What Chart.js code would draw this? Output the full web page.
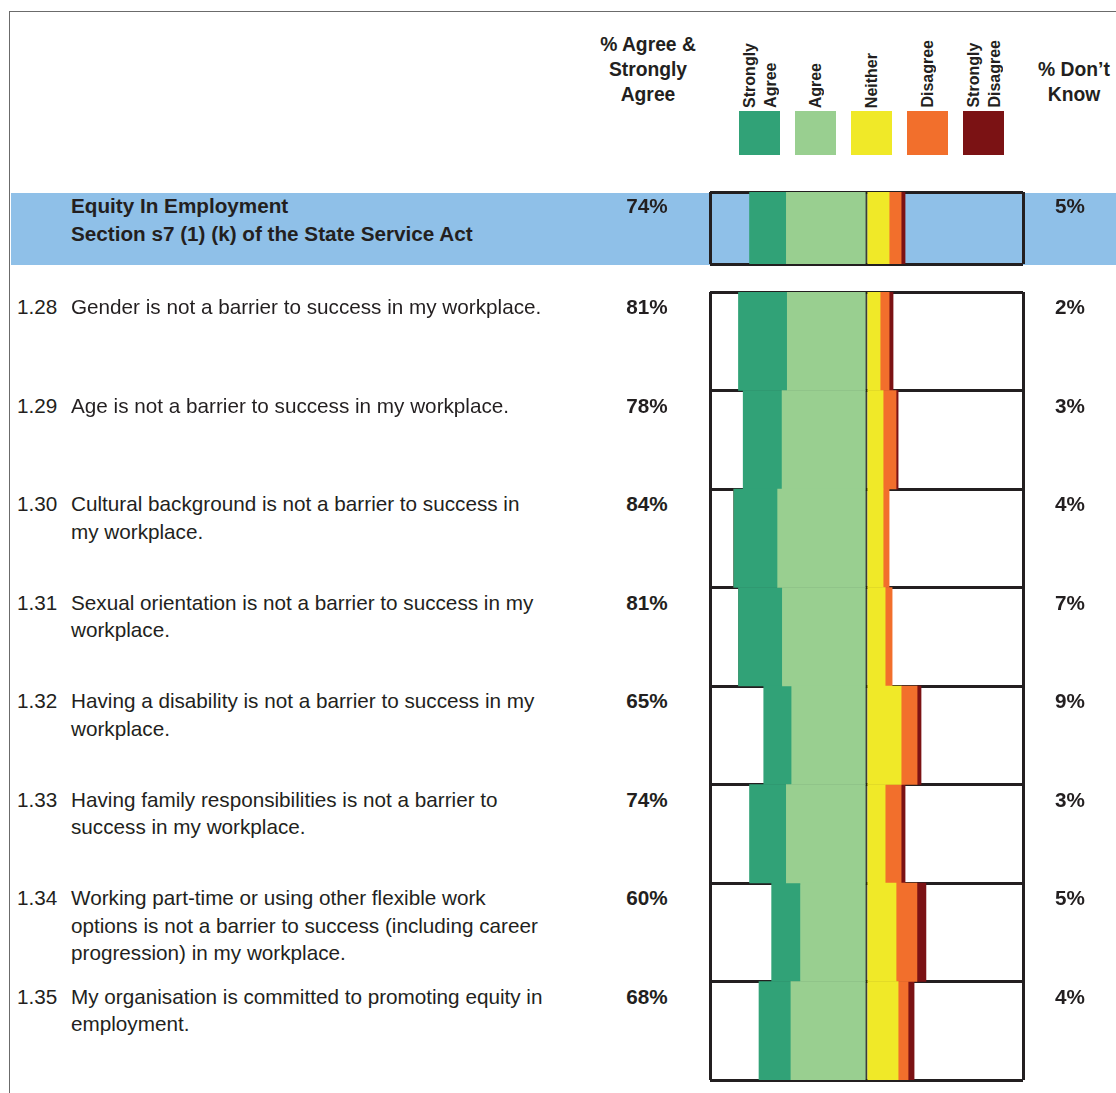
<!DOCTYPE html>
<html>
<head>
<meta charset="utf-8">
<title>Equity In Employment</title>
<script src="https://cdn.jsdelivr.net/npm/chart.js@4.4.0/dist/chart.umd.min.js"></script>
<style>
    body {
        margin: 0;
        background: #fff;
        font-family: "Liberation Sans", Arial, Helvetica, sans-serif;
        color: #231f20;
    }
    #page {
        position: relative;
        width: 1116px;
        height: 1093px;
        overflow: hidden;
    }
    .frame-top { position: absolute; left: 9px; top: 11px; width: 1107px; height: 0; border-top: 1.5px solid #6b6b6b; }
    .frame-left { position: absolute; left: 9px; top: 11px; width: 0; height: 1082px; border-left: 1.5px solid #6b6b6b; }
    .band { position: absolute; left: 11px; top: 193px; width: 1105px; height: 72px; background: #8fc0e8; }
    .txt { position: absolute; font-size: 20.7px; line-height: 27.5px; white-space: nowrap; }
    .bold { font-weight: bold; }
    .center { text-align: center; }
    .head { position: absolute; font-size: 19.3px; line-height: 25px; font-weight: bold; text-align: center; white-space: nowrap; }
    .swatch { position: absolute; top: 111px; width: 41px; height: 44px; }
    .vlabel {
        position: absolute;
        bottom: calc(1093px - 108px);
        font-size: 16px;
        line-height: 21px;
        font-weight: bold;
        writing-mode: vertical-rl;
        transform: rotate(180deg);
        white-space: nowrap;
        text-align: left;
    }
    canvas { position: absolute; }
</style>
</head>
<body>
<div id="page">
    <div class="frame-top"></div>
    <div class="frame-left"></div>
    <div class="band"></div>
    <canvas id="sectionChart" width="317" height="76" style="left:708px; top:190px;"></canvas>
    <canvas id="rowsChart" width="317" height="792" style="left:708px; top:290px;"></canvas>
</div>
<script>
'use strict';

// Response categories, in legend order
const responseLabels = ['Strongly\nAgree', 'Agree', 'Neither', 'Disagree', 'Strongly\nDisagree'];
const responseColors = ['#31a277', '#99cf90', '#f0e928', '#f26f2c', '#7b1214'];

// Section summary row
const sectionTitle = ['Equity In Employment', 'Section s7 (1) (k) of the State Service Act'];
const sectionStronglyAgree = [23.3];
const sectionAgree = [50.7];
const sectionNeither = [14.3];
const sectionDisagree = [7.6];
const sectionStronglyDisagree = [2.5];
const sectionDontKnow = [5];

// Question rows
const questionIds = ['1.28', '1.29', '1.30', '1.31', '1.32', '1.33', '1.34', '1.35'];
const questionText = [
    ['Gender is not a barrier to success in my workplace.'],
    ['Age is not a barrier to success in my workplace.'],
    ['Cultural background is not a barrier to success in', 'my workplace.'],
    ['Sexual orientation is not a barrier to success in my', 'workplace.'],
    ['Having a disability is not a barrier to success in my', 'workplace.'],
    ['Having family responsibilities is not a barrier to', 'success in my workplace.'],
    ['Working part-time or using other flexible work', 'options is not a barrier to success (including career', 'progression) in my workplace.'],
    ['My organisation is committed to promoting equity in', 'employment.'],
];
const stronglyAgree = [30.9, 24.6, 27.8, 27.8, 17.7, 23.3, 18.3, 20.2];
const agree = [50.1, 53.4, 56.2, 53.2, 47.3, 50.7, 41.7, 47.8];
const neither = [8.6, 10.5, 10.5, 11.8, 21.9, 11.8, 18.7, 20.0];
const disagree = [5.7, 8.2, 3.8, 4.4, 10.1, 10.1, 13.2, 6.3];
const stronglyDisagree = [2.5, 1.3, 0, 0, 2.5, 2.5, 5.7, 3.8];
const dontKnow = [2, 3, 4, 7, 9, 3, 5, 4];

// Axis half-width in percent (box edges)
const X_LIMIT = 99;
const ROWS_TOP = 292;
const ROW_HEIGHT = 98.5;
const SECTION_TOP = 192;

const page = document.getElementById('page');

function addText(cls, left, top, html, extraStyle) {
    const el = document.createElement('div');
    el.className = cls;
    el.style.left = left + 'px';
    el.style.top = top + 'px';
    if (extraStyle) el.style.cssText += extraStyle;
    el.innerHTML = html;
    page.appendChild(el);
    return el;
}

function pct(v) {
    return Math.round(v) + '%';
}

// Column headings
addText('head', 588, 32, '% Agree &amp;<br>Strongly<br>Agree', 'width:120px;');
addText('head', 1024, 57, '% Don\u2019t<br>Know', 'width:100px;');

// Legend: rotated labels above colour swatches
const swatchLeft = [739, 795, 851, 907, 963];
responseLabels.forEach((label, i) => {
    const sw = document.createElement('div');
    sw.className = 'swatch';
    sw.style.left = swatchLeft[i] + 'px';
    sw.style.background = responseColors[i];
    page.appendChild(sw);

    const lines = label.split('\n');
    const w = lines.length * 21;
    const el = document.createElement('div');
    el.className = 'vlabel';
    el.style.left = (swatchLeft[i] + 20.5 - w / 2) + 'px';
    el.innerHTML = lines.join('<br>');
    page.appendChild(el);
});

// Section row text
addText('txt bold', 71, SECTION_TOP, sectionTitle.join('<br>'));
addText('txt bold center', 597, SECTION_TOP, pct(sectionStronglyAgree[0] + sectionAgree[0]), 'width:100px;');
addText('txt bold center', 1020, SECTION_TOP, pct(sectionDontKnow[0]), 'width:100px;');

// Question row text
questionIds.forEach((id, i) => {
    const top = ROWS_TOP + i * ROW_HEIGHT + 1;
    addText('txt', 17, top, id);
    addText('txt', 71, top, questionText[i].join('<br>'));
    addText('txt bold center', 597, top, pct(stronglyAgree[i] + agree[i]), 'width:100px;');
    addText('txt bold center', 1020, top, pct(dontKnow[i]), 'width:100px;');
});

// Diverging stacked bars: agreement to the left of the centre line, the rest to the right
function divergingChart(canvasId, labels, sa, a, n, d, sd) {
    const negate = arr => arr.map(v => -v);
    return new Chart(document.getElementById(canvasId), {
        type: 'bar',
        data: {
            labels: labels,
            datasets: [
                { label: 'Agree', data: negate(a), backgroundColor: responseColors[1] },
                { label: 'Strongly Agree', data: negate(sa), backgroundColor: responseColors[0] },
                { label: 'Neither', data: n, backgroundColor: responseColors[2] },
                { label: 'Disagree', data: d, backgroundColor: responseColors[3] },
                { label: 'Strongly Disagree', data: sd, backgroundColor: responseColors[4] },
            ],
        },
        options: {
            indexAxis: 'y',
            responsive: false,
            animation: false,
            devicePixelRatio: 1,
            layout: { padding: 2 },
            datasets: {
                bar: { categoryPercentage: 1, barPercentage: 1, borderWidth: 0 },
            },
            plugins: {
                legend: { display: false },
                tooltip: { enabled: false },
            },
            scales: {
                x: {
                    stacked: true,
                    min: -X_LIMIT,
                    max: X_LIMIT,
                    z: 1,
                    ticks: { display: false, stepSize: X_LIMIT },
                    border: { display: false },
                    grid: {
                        drawTicks: false,
                        color: ctx => (ctx.tick && ctx.tick.value === 0 ? '#3c3c3c' : '#231f20'),
                        lineWidth: ctx => (ctx.tick && ctx.tick.value === 0 ? 2.5 : 3),
                    },
                    afterFit: scale => { scale.height = 0; },
                },
                y: {
                    stacked: true,
                    offset: true,
                    z: 1,
                    ticks: { display: false },
                    border: { display: false },
                    grid: { offset: true, drawTicks: false, color: '#231f20', lineWidth: 3 },
                    afterFit: scale => { scale.width = 0; },
                },
            },
        },
    });
}

divergingChart('sectionChart', ['section'], sectionStronglyAgree, sectionAgree,
    sectionNeither, sectionDisagree, sectionStronglyDisagree);
divergingChart('rowsChart', questionIds, stronglyAgree, agree,
    neither, disagree, stronglyDisagree);
</script>
</body>
</html>
